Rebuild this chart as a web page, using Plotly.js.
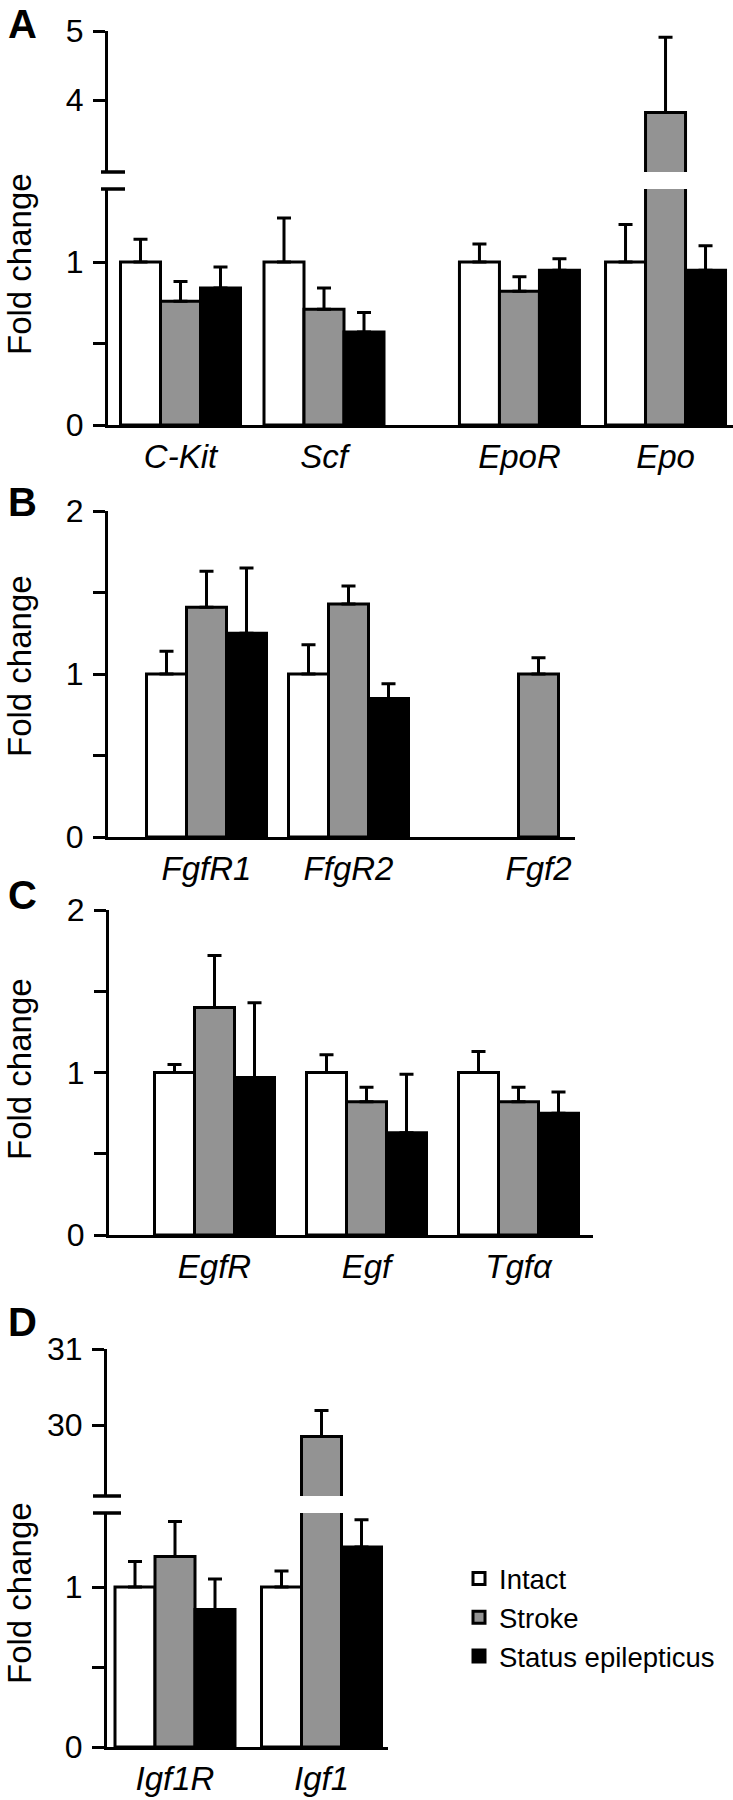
<!DOCTYPE html>
<html>
<head>
<meta charset="utf-8">
<script src="https://cdn.plot.ly/plotly-3.0.1.min.js"></script>
<style>
  html, body { margin: 0; padding: 0; background: #ffffff; }
  #chart { width: 733px; height: 1800px; }
</style>
</head>
<body>
<div id="chart"></div>
<script>
// ---------------- DATA ----------------
const seriesNames = ['Intact', 'Stroke', 'Status epilepticus'];

// Panel A
const genesA = ['C-Kit', 'Scf', 'EpoR', 'Epo'];
const intactA = [1.0, 1.0, 1.0, 1.0];
const intactErrA = [0.14, 0.27, 0.11, 0.23];
const strokeA = [0.76, 0.71, 0.82, 3.82];
const strokeErrA = [0.12, 0.13, 0.09, 1.09];
const seA = [0.84, 0.57, 0.95, 0.95];
const seErrA = [0.13, 0.12, 0.07, 0.15];

// Panel B
const genesB = ['FgfR1', 'FfgR2', 'Fgf2'];
const intactB = [1.0, 1.0, null];
const intactErrB = [0.14, 0.18, null];
const strokeB = [1.41, 1.43, 1.0];
const strokeErrB = [0.22, 0.11, 0.10];
const seB = [1.25, 0.85, null];
const seErrB = [0.40, 0.09, null];

// Panel C
const genesC = ['EgfR', 'Egf', 'Tgf\u03b1'];
const intactC = [1.0, 1.0, 1.0];
const intactErrC = [0.05, 0.11, 0.13];
const strokeC = [1.40, 0.82, 0.82];
const strokeErrC = [0.32, 0.09, 0.09];
const seC = [0.97, 0.63, 0.75];
const seErrC = [0.46, 0.36, 0.13];

// Panel D
const genesD = ['Igf1R', 'Igf1'];
const intactD = [1.0, 1.0];
const intactErrD = [0.16, 0.10];
const strokeD = [1.19, 29.85];
const strokeErrD = [0.22, 0.34];
const seD = [0.86, 1.25];
const seErrD = [0.19, 0.17];

// y tick labels
const yTicksLowBroken = [0, 0.5, 1];
const yTickTextLowBroken = ['0', '', '1'];
const yTicksUpA = [4, 5];
const yTicksUpD = [30, 31];
const yTicks02 = [0, 0.5, 1, 1.5, 2];
const yTickText02 = ['0', '', '1', '', '2'];

// ---------------- LAYOUT CONSTANTS (pixels) ----------------
const W = 733, H = 1800;
const FONT = 'Liberation Sans, Arial, Helvetica, sans-serif';
const BAR_PX = 40;
const colors = ['#ffffff', '#939393', '#000000'];

// group slots (relative spacing of the gene groups on each panel)
const slotsA = [0, 1, 2.362, 3.380];
const slotsB = [0, 1, 2.338];
const slotsC = [0, 1, 2.0];
const slotsD = [0, 1];

const panels = [
  { id: 'A', genes: genesA, slots: slotsA, xl: 108, xr: 733, c0: 180.5, unit: 143.5,
    vals: [intactA, strokeA, seA], errs: [intactErrA, strokeErrA, seErrA],
    ys: [ { bottom: 425, top: 189, range: [0, 1.448], tickvals: yTicksLowBroken, ticktext: yTickTextLowBroken },
          { bottom: 172, top: 31, range: [2.957, 5], tickvals: yTicksUpA, ticktext: ['4', '5'] } ],
    letterY: 24, titleY: 264, breakX: [101, 125] },
  { id: 'B', genes: genesB, slots: slotsB, xl: 108, xr: 575, c0: 206.5, unit: 142,
    vals: [intactB, strokeB, seB], errs: [intactErrB, strokeErrB, seErrB],
    ys: [ { bottom: 837, top: 511, range: [0, 2], tickvals: yTicks02, ticktext: yTickText02 } ],
    letterY: 502, titleY: 666 },
  { id: 'C', genes: genesC, slots: slotsC, xl: 109, xr: 593, c0: 214.5, unit: 152,
    vals: [intactC, strokeC, seC], errs: [intactErrC, strokeErrC, seErrC],
    ys: [ { bottom: 1235, top: 910, range: [0, 2], tickvals: yTicks02, ticktext: yTickText02 } ],
    letterY: 895, titleY: 1069 },
  { id: 'D', genes: genesD, slots: slotsD, xl: 107, xr: 388, c0: 175, unit: 146.5,
    vals: [intactD, strokeD, seD], errs: [intactErrD, strokeErrD, seErrD],
    ys: [ { bottom: 1747, top: 1513, range: [0, 1.4625], tickvals: yTicksLowBroken, ticktext: yTickTextLowBroken },
          { bottom: 1496, top: 1349, range: [29.066, 31], tickvals: yTicksUpD, ticktext: ['30', '31'] } ],
    letterY: 1322, titleY: 1593, breakX: [93, 121], legend: true }
];

const traces = [];
const layout = {
  width: W, height: H,
  margin: { l: 0, r: 0, t: 0, b: 0 },
  paper_bgcolor: '#ffffff', plot_bgcolor: 'rgba(0,0,0,0)',
  font: { family: FONT, color: '#000000', size: 28 },
  barmode: 'overlay',
  showlegend: true,
  legend: {
    x: 459 / W, y: 1 - 1554 / H, xanchor: 'left', yanchor: 'top',
    font: { family: FONT, size: 27.5, color: '#000' },
    bgcolor: 'rgba(0,0,0,0)', borderwidth: 0, traceorder: 'normal',
    tracegroupgap: 0, itemclick: false, itemdoubleclick: false
  },
  shapes: [], annotations: []
};

const px2fx = p => p / W;
const px2fy = p => 1 - p / H;

let xIdx = 0, yIdx = 0;
panels.forEach(p => {
  xIdx += 1;
  const xName = xIdx === 1 ? 'x' : 'x' + xIdx;
  const xKey = xIdx === 1 ? 'xaxis' : 'xaxis' + xIdx;
  const bw = BAR_PX / p.unit;
  const yNames = [];
  p.ys.forEach((yc, k) => {
    yIdx += 1;
    const yName = yIdx === 1 ? 'y' : 'y' + yIdx;
    const yKey = yIdx === 1 ? 'yaxis' : 'yaxis' + yIdx;
    yNames.push(yName);
    layout[yKey] = {
      domain: [px2fy(yc.bottom), px2fy(yc.top)],
      range: yc.range, anchor: xName,
      showline: true, linewidth: 3, linecolor: '#000',
      ticks: 'outside', ticklen: 12, tickwidth: 3, tickcolor: '#000',
      tickvals: yc.tickvals, ticktext: yc.ticktext,
      tickfont: { family: FONT, size: 32, color: '#000' },
      ticklabelstandoff: 3,
      showgrid: false, zeroline: false, fixedrange: true
    };
  });
  layout[xKey] = {
    domain: [px2fx(p.xl), Math.min(1, px2fx(p.xr))],
    range: [(p.xl - p.c0) / p.unit, (p.xr - p.c0) / p.unit],
    anchor: yNames[0],
    showline: true, linewidth: 3, linecolor: '#000',
    ticks: '', tickvals: p.slots, ticktext: p.genes,
    tickfont: { family: FONT, size: 33, color: '#000', style: 'italic' },
    ticklabelstandoff: 0,
    showgrid: false, zeroline: false, fixedrange: true
  };
  yNames.forEach((yName, k) => {
    seriesNames.forEach((name, i) => {
      traces.push({
        type: 'bar', name: name,
        x: p.slots, y: p.vals[i],
        xaxis: xName, yaxis: yName,
        width: bw, offset: -1.5 * bw + i * bw,
        marker: { color: colors[i], line: { color: '#000', width: 3 } },
        error_y: {
          type: 'data', symmetric: false,
          array: p.errs[i], arrayminus: p.errs[i].map(v => v === null ? null : 0),
          color: '#000', thickness: 3, width: 7, visible: true
        },
        showlegend: !!p.legend && k === 0,
        legendgroup: name,
        hoverinfo: 'skip'
      });
    });
  });
  // break marks for broken axes
  if (p.ys.length > 1) {
    [p.ys[0].top, p.ys[1].bottom].forEach(yy => {
      layout.shapes.push({
        type: 'line', xref: 'paper', yref: 'paper',
        x0: px2fx(p.breakX[0]), x1: px2fx(p.breakX[1]),
        y0: px2fy(yy), y1: px2fy(yy),
        line: { color: '#000', width: 3.5 }
      });
    });
  }
  // panel letter
  layout.annotations.push({
    text: '<b>' + p.id + '</b>', xref: 'paper', yref: 'paper',
    x: px2fx(22), y: px2fy(p.letterY), xanchor: 'center', yanchor: 'middle',
    showarrow: false, font: { family: FONT, size: 40, color: '#000' }
  });
  // y-axis title
  layout.annotations.push({
    text: 'Fold change', xref: 'paper', yref: 'paper',
    x: px2fx(19), y: px2fy(p.titleY), xanchor: 'center', yanchor: 'middle',
    textangle: -90, showarrow: false, font: { family: FONT, size: 33, color: '#000' }
  });
});

Plotly.newPlot('chart', traces, layout, { staticPlot: true, displayModeBar: false });
</script>
</body>
</html>
